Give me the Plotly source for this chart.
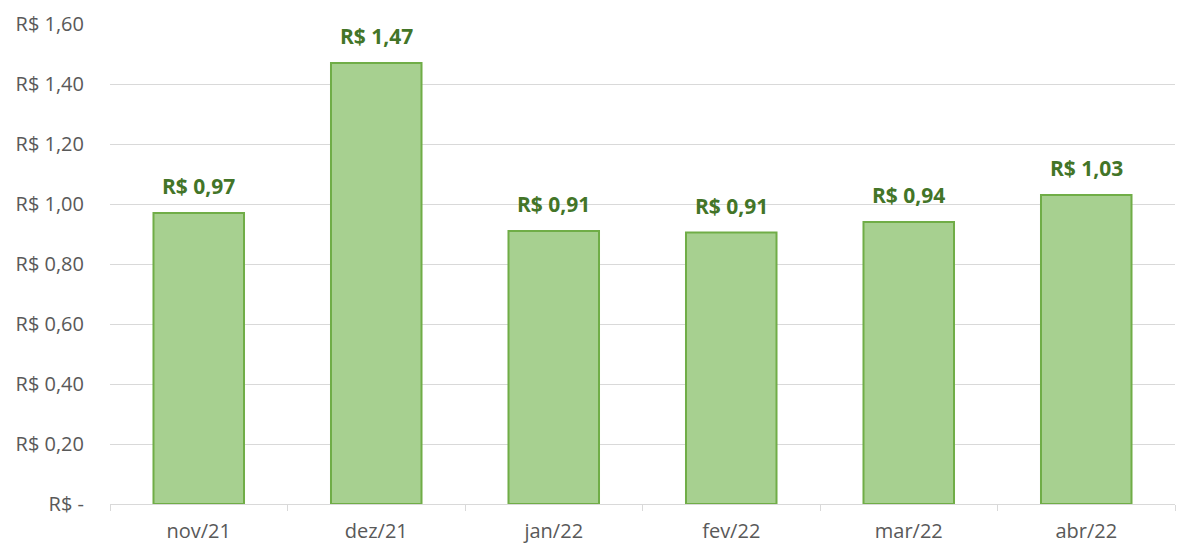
import plotly.graph_objects as go

months = ["nov/21", "dez/21", "jan/22", "fev/22", "mar/22", "abr/22"]
values = [0.97, 1.47, 0.91, 0.905, 0.94, 1.03]
labels = ["R$ 0,97", "R$ 1,47", "R$ 0,91", "R$ 0,91", "R$ 0,94", "R$ 1,03"]
tick_vals = [0, 0.2, 0.4, 0.6, 0.8, 1.0, 1.2, 1.4, 1.6]
tick_text = ["R$ -", "R$ 0,20", "R$ 0,40", "R$ 0,60", "R$ 0,80", "R$ 1,00", "R$ 1,20", "R$ 1,40", "R$ 1,60"]

fig = go.Figure()
fig.add_trace(go.Bar(
    x=months, y=values,
    marker=dict(color="#a7d090", line=dict(color="#70ad47", width=2)),
    width=0.51,
))
for m, v, t in zip(months, values, labels):
    fig.add_annotation(x=m, y=v, text=t, showarrow=False, yanchor="bottom", yshift=11,
                       font=dict(family="Open Sans", size=21, color="#437528", weight="bold"))
fig.update_layout(
    width=1186, height=539,
    margin=dict(l=102, r=19, t=16, b=43),
    paper_bgcolor="white", plot_bgcolor="white",
    showlegend=False,
    font=dict(family="Open Sans", size=20, color="#595959"),
    xaxis=dict(showline=True, linecolor="#d9d9d9", linewidth=1, ticks="outside",
               tickson="boundaries", ticklen=6, tickcolor="#d9d9d9", automargin=False,
               ticklabelstandoff=9,
               tickfont=dict(size=20, color="#595959")),
    yaxis=dict(range=[0, 1.6], tickvals=tick_vals, ticktext=tick_text,
               showgrid=True, gridcolor="#d9d9d9", gridwidth=1, zeroline=False,
               ticks="", ticklabelstandoff=25, automargin=False,
               tickfont=dict(size=20, color="#595959")),
)
fig.write_html("out.html")
